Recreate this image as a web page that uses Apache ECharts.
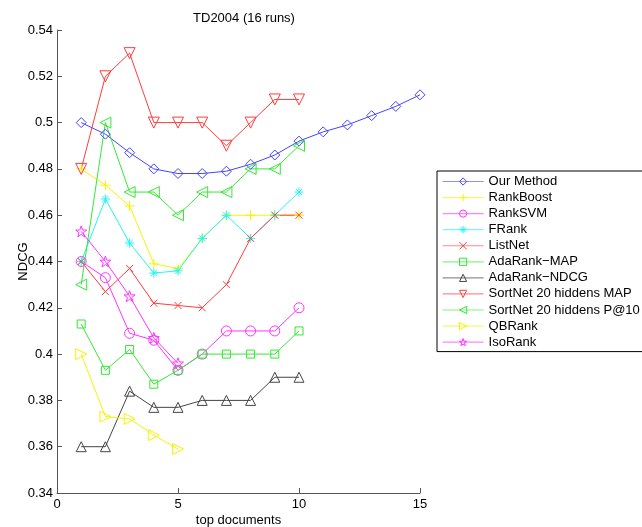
<!DOCTYPE html>
<html><head><meta charset="utf-8">
<script src="https://cdn.jsdelivr.net/npm/echarts@6/dist/echarts.min.js"></script>
<style>html,body{margin:0;padding:0;background:#fff}#c{width:642px;height:527px}</style>
</head><body><div id="c"></div>
<script>
var xs15 = [1,2,3,4,5,6,7,8,9,10,11,12,13,14,15];
var xs10 = [1,2,3,4,5,6,7,8,9,10];
var xs5 = [1,2,3,4,5];
var names = ['Our Method','RankBoost','RankSVM','FRank','ListNet','AdaRank\u2212MAP','AdaRank\u2212NDCG','SortNet 20 hiddens MAP','SortNet 20 hiddens P@10','QBRank','IsoRank'];
var ourMethod = [0.500,0.495,0.487,0.480,0.478,0.478,0.479,0.482,0.486,0.492,0.496,0.499,0.503,0.507,0.512];
var rankBoost = [0.480,0.473,0.464,0.439,0.437,0.450,0.460,0.460,0.460,0.460];
var rankSVM = [0.440,0.433,0.409,0.406,0.393,0.400,0.410,0.410,0.410,0.420];
var fRank = [0.440,0.467,0.448,0.435,0.436,0.450,0.460,0.450,0.460,0.470];
var listNet = [0.440,0.427,0.437,0.422,0.421,0.420,0.430,0.450,0.460,0.460];
var adaMAP = [0.413,0.393,0.402,0.387,0.393,0.400,0.400,0.400,0.400,0.410];
var adaNDCG = [0.360,0.360,0.384,0.377,0.377,0.380,0.380,0.380,0.390,0.390];
var sortMAP = [0.480,0.520,0.530,0.500,0.500,0.500,0.490,0.500,0.510,0.510];
var sortP10 = [0.430,0.500,0.470,0.470,0.460,0.470,0.470,0.480,0.480,0.490];
var qbRank = [0.400,0.373,0.372,0.365,0.359];
var isoRank = [0.453,0.440,0.425,0.407,0.396];
var yTicks = [0.34,0.36,0.38,0.40,0.42,0.44,0.46,0.48,0.50,0.52,0.54];
var xTicks = [0,5,10,15];

var colors = ['#4444ff','#f4f400','#ff33ff','#22f4f4','#ff3b3b','#33e833','#444444','#ff3b3b','#33e833','#f4f400','#ff33ff'];
var symbols = [
  'diamond',
  'path://M0,-5L0,5M-5,0L5,0',
  'circle',
  'path://M0,-5L0,5M-5,0L5,0M-3.5,-3.5L3.5,3.5M-3.5,3.5L3.5,-3.5',
  'path://M-5,-5L5,5M-5,5L5,-5',
  'rect',
  'triangle',
  'path://M-5,-4L5,-4L0,5Z',
  'path://M5,-5L5,5L-4,0Z',
  'path://M-5,-5L-5,5L4,0Z',
  'path://M0,-5L1.18,-1.62L4.76,-1.55L1.9,0.62L2.94,4.05L0,2L-2.94,4.05L-1.9,0.62L-4.76,-1.55L-1.18,-1.62Z'
];
var sizes = [10,10,10,9,7,8,10,11,11,11,11];
var dataSets = [[xs15,ourMethod],[xs10,rankBoost],[xs10,rankSVM],[xs10,fRank],[xs10,listNet],[xs10,adaMAP],[xs10,adaNDCG],[xs10,sortMAP],[xs10,sortP10],[xs5,qbRank],[xs5,isoRank]];

var series = dataSets.map(function(d,i){
  return {
    name: names[i], type:'line', color: colors[i],
    data: d[0].map(function(x,j){return [x,d[1][j]];}),
    symbol: symbols[i], symbolSize: sizes[i], showSymbol:true,
    lineStyle:{color:colors[i], width:1},
    itemStyle:{color:'transparent', borderColor:colors[i], borderWidth:1},
    emphasis:{disabled:true}, animation:false
  };
});

var legendData = names.map(function(n,i){
  return {name:n,
    itemStyle:{color:'transparent', borderColor:colors[i], borderWidth:1},
    lineStyle:{color:colors[i], width:1.2, opacity:0.6}};
});

var FF = 'Liberation Sans, Arial, sans-serif';
var fmt = function(v){ return String(parseFloat(v.toFixed(2))); };
var chart = echarts.init(document.getElementById('c'));
chart.setOption({
  animation:false,
  textStyle:{fontFamily:FF},
  title:{text:'TD2004 (16 runs)', left:239, top:7, textAlign:'center',
    textStyle:{fontSize:13, fontWeight:'normal', color:'#000', fontFamily:FF}},
  grid:{left:57, right:222, top:30, bottom:34, containLabel:false, outerBoundsMode:'none'},
  xAxis:{type:'value', min:xTicks[0], max:xTicks[xTicks.length-1], interval:5,
    name:'top documents', nameLocation:'middle', nameGap:21, nameMoveOverlap:false,
    nameTextStyle:{fontSize:13, color:'#000'},
    axisLine:{lineStyle:{color:'#555'}}, axisTick:{inside:true, length:5, lineStyle:{color:'#555'}},
    axisLabel:{fontSize:13, color:'#000', margin:5}, splitLine:{show:false}},
  yAxis:{type:'value', min:yTicks[0], max:yTicks[yTicks.length-1], interval:0.02,
    name:'NDCG', nameLocation:'middle', nameGap:27, nameRotate:90, nameMoveOverlap:false,
    nameTextStyle:{fontSize:13, color:'#000'},
    axisLine:{show:true, lineStyle:{color:'#555'}}, axisTick:{show:true, inside:true, length:5, lineStyle:{color:'#555'}},
    axisLabel:{fontSize:13, color:'#000', margin:4, formatter:fmt}, splitLine:{show:false}},
  legend:{orient:'vertical', left:437, top:171, width:204,
    padding:[4,30,3,5], itemGap:3.06, itemWidth:41, itemHeight:9,
    borderColor:'#000', borderWidth:1, backgroundColor:'#fff',
    textStyle:{fontSize:13, lineHeight:13, color:'#000'},
    data:legendData},
  series:series
});
</script></body></html>
